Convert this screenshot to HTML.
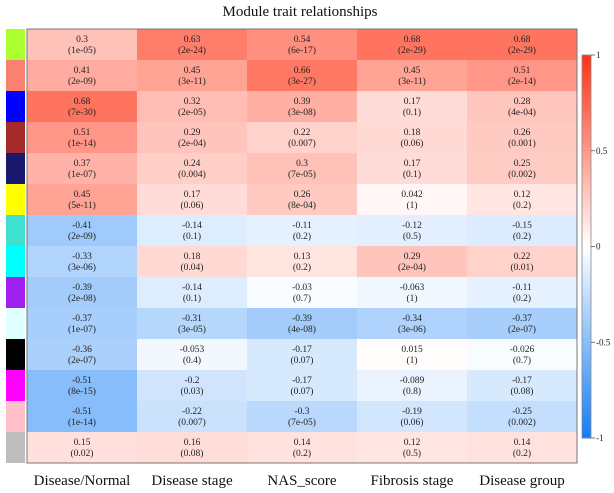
<!DOCTYPE html>
<html><head><meta charset="utf-8"><style>
html,body{margin:0;padding:0;background:#fff;}
svg{display:block;}
svg text{font-family:"Liberation Serif","Times New Roman",serif;}
</style></head><body>
<svg id="chart" width="614" height="493"></svg>
<script>
const modules = ["#ADFF2F","#FA8072","#0000FF","#A52A2A","#191970","#FFFF00","#40E0D0","#00FFFF","#A020F0","#E0FFFF","#000000","#FF00FF","#FFC0CB","#BEBEBE"];
const traits = ["Disease/Normal","Disease stage","NAS_score","Fibrosis stage","Disease group"];
const corr = [
[0.3,0.63,0.54,0.68,0.68],
[0.41,0.45,0.66,0.45,0.51],
[0.68,0.32,0.39,0.17,0.28],
[0.51,0.29,0.22,0.18,0.26],
[0.37,0.24,0.3,0.17,0.25],
[0.45,0.17,0.26,0.042,0.12],
[-0.41,-0.14,-0.11,-0.12,-0.15],
[-0.33,0.18,0.13,0.29,0.22],
[-0.39,-0.14,-0.03,-0.063,-0.11],
[-0.37,-0.31,-0.39,-0.34,-0.37],
[-0.36,-0.053,-0.17,0.015,-0.026],
[-0.51,-0.2,-0.17,-0.089,-0.17],
[-0.51,-0.22,-0.3,-0.19,-0.25],
[0.15,0.16,0.14,0.12,0.14]];
const pvals = [
["1e-05","2e-24","6e-17","2e-29","2e-29"],
["2e-09","3e-11","3e-27","3e-11","2e-14"],
["7e-30","2e-05","3e-08","0.1","4e-04"],
["1e-14","2e-04","0.007","0.06","0.001"],
["1e-07","0.004","7e-05","0.1","0.002"],
["5e-11","0.06","8e-04","1","0.2"],
["2e-09","0.1","0.2","0.5","0.2"],
["3e-06","0.04","0.2","2e-04","0.01"],
["2e-08","0.1","0.7","1","0.2"],
["1e-07","3e-05","4e-08","3e-06","2e-07"],
["2e-07","0.4","0.07","1","0.7"],
["8e-15","0.03","0.07","0.8","0.08"],
["1e-14","0.007","7e-05","0.06","0.002"],
["0.02","0.08","0.2","0.5","0.2"]];
const legendTicks = [1,0.5,0,-0.5,-1];

const NS="http://www.w3.org/2000/svg";
const svg=document.getElementById('chart');
const FF='Liberation Serif, serif';
function mk(t,a,p){const e=document.createElementNS(NS,t);for(const k in a)e.setAttribute(k,a[k]);if(t==='text')e.setAttribute('font-family',FF);(p||svg).appendChild(e);return e;}
function col(v){
  v=Math.max(-1,Math.min(1,v));
  let r,g,b;
  if(v>=0){const t=v;r=255;g=Math.round(255+(50-255)*t);b=Math.round(255+(20-255)*t);}
  else{const t=-v;r=Math.round(255+(20-255)*t);g=Math.round(255+(125-255)*t);b=Math.round(255+(245-255)*t);}
  return `rgb(${r},${g},${b})`;
}
const X0=27,Y0=29,CW=110,RH=31;
const xs=i=>X0+i*CW, ys=j=>Y0+j*RH;

let t=mk('text',{x:300,y:16,'text-anchor':'middle','font-size':15,fill:'#111'});
t.textContent="Module trait relationships";



corr.forEach((row,j)=>{
  const m=mk('rect',{x:6,y:ys(j),width:19,height:RH,fill:modules[j]});
  
  
  row.forEach((v,i)=>{
    const r=mk('rect',{x:xs(i),y:ys(j),width:CW,height:RH,fill:col(v)});
    
    
    const a=mk('text',{x:xs(i)+CW/2,y:ys(j)+13,'text-anchor':'middle','font-size':9.5,fill:'#222'});
    a.textContent=String(v);
    
    
    const b=mk('text',{x:xs(i)+CW/2,y:ys(j)+24,'text-anchor':'middle','font-size':9.5,fill:'#222'});
    b.textContent='('+pvals[j][i]+')';
    
    
  });
});
const fr=mk('rect',{x:X0,y:Y0,width:CW*5,height:RH*14,fill:'none',stroke:'#777','stroke-width':1});



traits.forEach((s,i)=>{
  const l=mk('text',{x:xs(i)+CW/2,y:485,'text-anchor':'middle','font-size':15,fill:'#111'});
  l.textContent=s;
  
  
});

const LX=582,LW=9,LT=55,LB=438;
const ly=v=>LT+(1-v)/2*(LB-LT);
for(let k=0;k<100;k++){
  const v1=1-k*0.02;
  const s=mk('rect',{x:LX,y:ly(v1),width:LW,height:(LB-LT)/100+0.5,fill:col(v1-0.01)});
  
  
}
const lb=mk('rect',{x:LX,y:LT,width:LW,height:LB-LT,fill:'none',stroke:'#888','stroke-width':0.8});


legendTicks.forEach(v=>{
  const tk=mk('line',{x1:LX+LW,x2:LX+LW+4,y1:ly(v),y2:ly(v),stroke:'#555','stroke-width':0.8});
  
  
  const tl=mk('text',{x:LX+LW+5,y:ly(v)+3,'font-size':9,fill:'#222'});
  tl.textContent=String(v);
  
  
});
</script>
</body></html>
